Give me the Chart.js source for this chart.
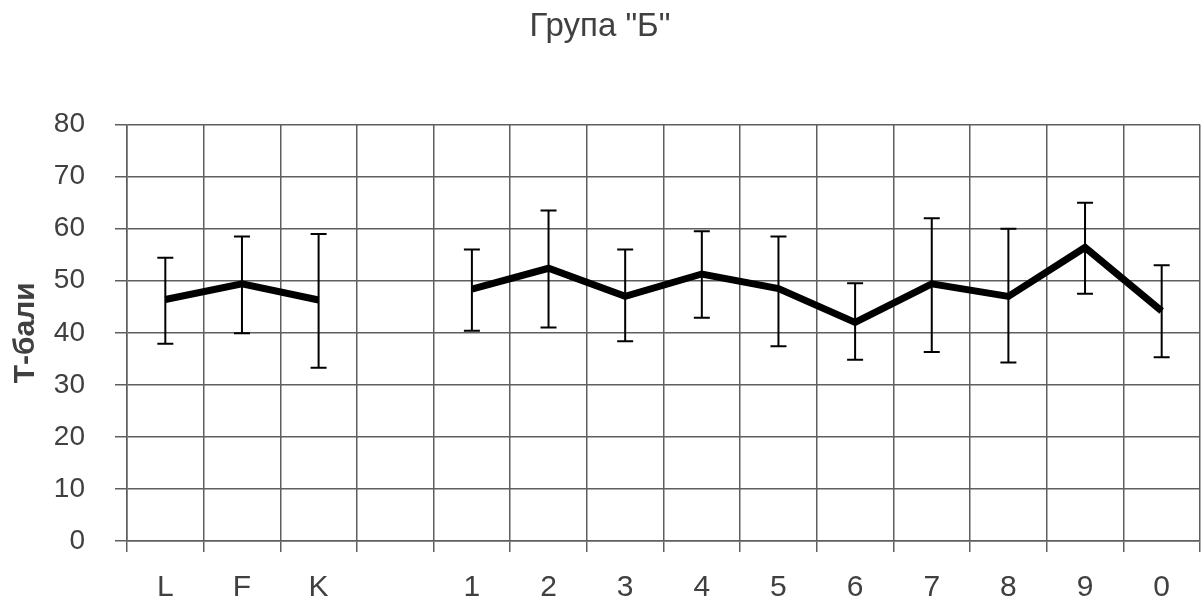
<!DOCTYPE html>
<html>
<head>
<meta charset="utf-8">
<script src="https://cdn.jsdelivr.net/npm/chart.js@4/dist/chart.umd.min.js"></script>
<style>
  html,body{margin:0;padding:0;background:#fff;}
  #wrap{width:1204px;height:605px;position:relative;}
</style>
</head>
<body>
<div id="wrap"><canvas id="c"></canvas></div>
<script>
// categories (blank slot separates the validity scales from the clinical ones)
const labels=['L','F','K','','1','2','3','4','5','6','7','8','9','0'];
const means=[46.4,49.4,46.3,null,48.4,52.4,47,51.3,48.5,42,49.4,47,56.4,44.2];
const upper=[54.4,58.5,59,null,56,63.5,56,59.5,58.5,49.5,62,60,65,53];
const lower=[37.9,39.9,33.3,null,40.4,41,38.4,42.9,37.4,34.8,36.3,34.3,47.5,35.3];
const yTicks=[0,10,20,30,40,50,60,70,80];

const GRID='#5f5f5f', TXT='#404040', FONT='Arial, Liberation Sans';

// error bars drawn through the chart's own scales
const errBars={id:'errBars',afterDatasetsDraw(chart){
  const {ctx,scales:{y}}=chart;
  const meta=chart.getDatasetMeta(0);
  ctx.save();
  ctx.strokeStyle='#000';ctx.lineWidth=2;
  meta.data.forEach((pt,i)=>{
    if(upper[i]==null) return;
    const x=pt.x, yu=y.getPixelForValue(upper[i]), yl=y.getPixelForValue(lower[i]);
    ctx.beginPath();
    ctx.moveTo(x,yu);ctx.lineTo(x,yl);
    ctx.moveTo(x-8,yu);ctx.lineTo(x+8,yu);
    ctx.moveTo(x-8,yl);ctx.lineTo(x+8,yl);
    ctx.stroke();
  });
  ctx.restore();
}};

new Chart(document.getElementById('c'),{type:'line',
  data:{labels,datasets:[{data:means,borderColor:'#000',borderWidth:7,
    pointRadius:0,spanGaps:false,tension:0,borderJoinStyle:'miter'}]},
  options:{responsive:true,maintainAspectRatio:false,animation:false,
    layout:{padding:{left:0,right:4,top:0,bottom:0}},
    plugins:{legend:{display:false},tooltip:{enabled:false},
      title:{display:true,text:'Група "Б"',color:'#404040',
        font:{family:FONT,size:33,weight:'normal'},
        padding:{top:7,bottom:78}}},
    scales:{
      x:{offset:true,
        grid:{offset:true,color:GRID,lineWidth:1.5,tickLength:11},
        border:{color:GRID,width:1.5},
        ticks:{color:TXT,padding:18,font:{family:FONT,size:30}},
        afterFit:s=>{s.height=64;}},
      y:{min:0,max:80,
        afterBuildTicks:s=>{s.ticks=yTicks.map(v=>({value:v}));},
        grid:{color:GRID,lineWidth:1.5,tickLength:12},
        border:{color:GRID,width:1.5},
        ticks:{color:TXT,padding:30,font:{family:FONT,size:28}},
        title:{display:true,text:'Т-бали',color:TXT,
          font:{family:FONT,size:30,weight:'bold'},padding:{top:8,bottom:0}},
        afterFit:s=>{s.width=127;}}
    }},
  plugins:[errBars]
});
</script>
</body>
</html>
